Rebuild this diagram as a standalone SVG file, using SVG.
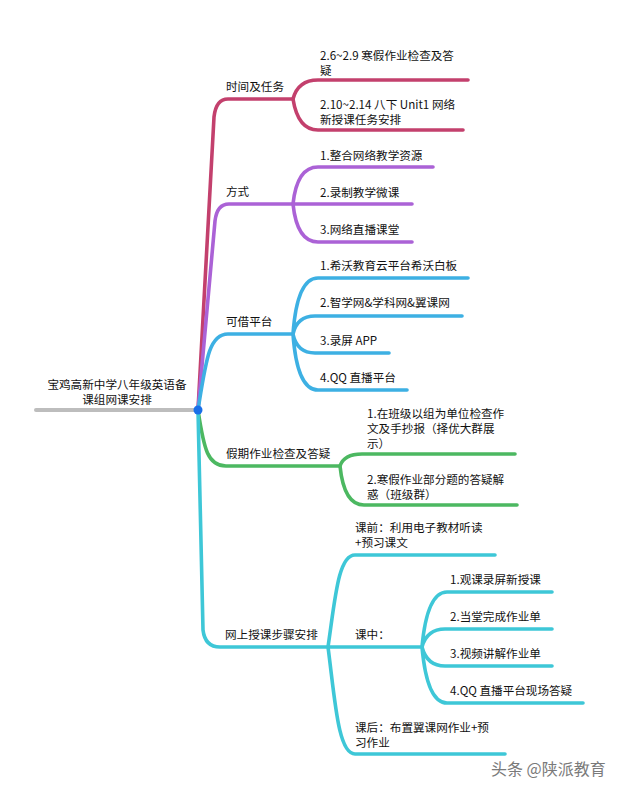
<svg xmlns="http://www.w3.org/2000/svg" width="619" height="791" viewBox="0 0 619 791">
<style>
text{font-family:"Noto Sans CJK SC","Noto Sans",sans-serif;font-size:11.6px;fill:#111}
.c{fill:none;stroke-linecap:round;stroke-linejoin:round}
.r{stroke:#c3406d;stroke-width:3.6}
.p{stroke:#ab62d6;stroke-width:3.6}
.b{stroke:#3db0e3;stroke-width:3.6}
.g{stroke:#4cb861;stroke-width:3.6}
.t{stroke:#3ec7d7;stroke-width:3.6}
.wm{font-size:16px;fill:#7a7a7a}
</style>
<rect width="619" height="791" fill="#fff"/>
<g id="connectors">
<path class="c" d="M36,410 H198" stroke="#bdbdbd" stroke-width="4"/>
<path class="c r" d="M198,410 L214,117 Q216,99 228,99 H293"/>
<path class="c r" d="M293,99 Q298,80 318,80 H468 M293,99 Q298,130 318,130 H463"/>
<path class="c p" d="M198,410 L215,221 Q217,204 229,204 H293"/>
<path class="c p" d="M293,204 Q297,167 318,167 H433 M293,204 H412 M293,204 Q297,242 318,242 H412"/>
<path class="c b" d="M198,410 C206,360 209,334 228,334 H293"/>
<path class="c b" d="M293,334 Q297,278 318,278 H468 M293,334 Q297,316 315,316 H462 M293,334 Q297,353 315,353 H389 M293,334 Q297,390 318,390 H407"/>
<path class="c g" d="M198,410 C204,450 208,466 226,466 H340"/>
<path class="c g" d="M340,466 Q344,454 362,454 H515 M340,466 Q344,505 364,505 H517"/>
<path class="c t" d="M198,410 L203,630 Q205,647 220,647 H328"/>
<path class="c t" d="M328,647 C335,600 338,555 355,555 H495 M328,647 H422 M328,647 C335,700 338,754 355,754 H505"/>
<path class="c t" d="M422,647 Q427,592 447,592 H552 M422,647 Q427,629 445,629 H552 M422,647 Q427,666 445,666 H552 M422,647 Q427,703 447,703 H583"/>
<circle cx="198" cy="410" r="4.5" fill="#1a6fe8"/>
</g>
<g id="root"><text x="117" y="389" text-anchor="middle">宝鸡高新中学八年级英语备</text><text x="117" y="404" text-anchor="middle">课组网课安排</text></g>
<g id="n1"><text x="226" y="91">时间及任务</text></g>
<g id="n1a"><text x="320" y="60">2.6~2.9 寒假作业检查及答</text><text x="320" y="75">疑</text></g>
<g id="n1b"><text x="320" y="109">2.10~2.14 八下 Unit1 网络</text><text x="320" y="124">新授课任务安排</text></g>
<g id="n2"><text x="226" y="196">方式</text></g>
<g id="n2a"><text x="320" y="160">1.整合网络教学资源</text></g>
<g id="n2b"><text x="320" y="197">2.录制教学微课</text></g>
<g id="n2c"><text x="320" y="234">3.网络直播课堂</text></g>
<g id="n3"><text x="226" y="326">可借平台</text></g>
<g id="n3a"><text x="320" y="270">1.希沃教育云平台希沃白板</text></g>
<g id="n3b"><text x="320" y="307">2.智学网&amp;学科网&amp;翼课网</text></g>
<g id="n3c"><text x="320" y="345">3.录屏 APP</text></g>
<g id="n3d"><text x="320" y="382">4.QQ 直播平台</text></g>
<g id="n4"><text x="226" y="458">假期作业检查及答疑</text></g>
<g id="n4a"><text x="367" y="418">1.在班级以组为单位检查作</text><text x="367" y="433">文及手抄报（择优大群展</text><text x="367" y="448">示）</text></g>
<g id="n4b"><text x="367" y="484">2.寒假作业部分题的答疑解</text><text x="367" y="499">惑（班级群）</text></g>
<g id="n5"><text x="225" y="639">网上授课步骤安排</text></g>
<g id="n5a"><text x="355" y="532">课前：利用电子教材听读</text><text x="355" y="547">+预习课文</text></g>
<g id="n5b"><text x="355" y="639">课中：</text></g>
<g id="n5b1"><text x="450" y="584">1.观课录屏新授课</text></g>
<g id="n5b2"><text x="450" y="621">2.当堂完成作业单</text></g>
<g id="n5b3"><text x="450" y="658">3.视频讲解作业单</text></g>
<g id="n5b4"><text x="450" y="695">4.QQ 直播平台现场答疑</text></g>
<g id="n5c"><text x="355" y="732">课后：布置翼课网作业+预</text><text x="355" y="747">习作业</text></g>
<text class="wm" x="491" y="775">头条 @陕派教育</text>
</svg>
